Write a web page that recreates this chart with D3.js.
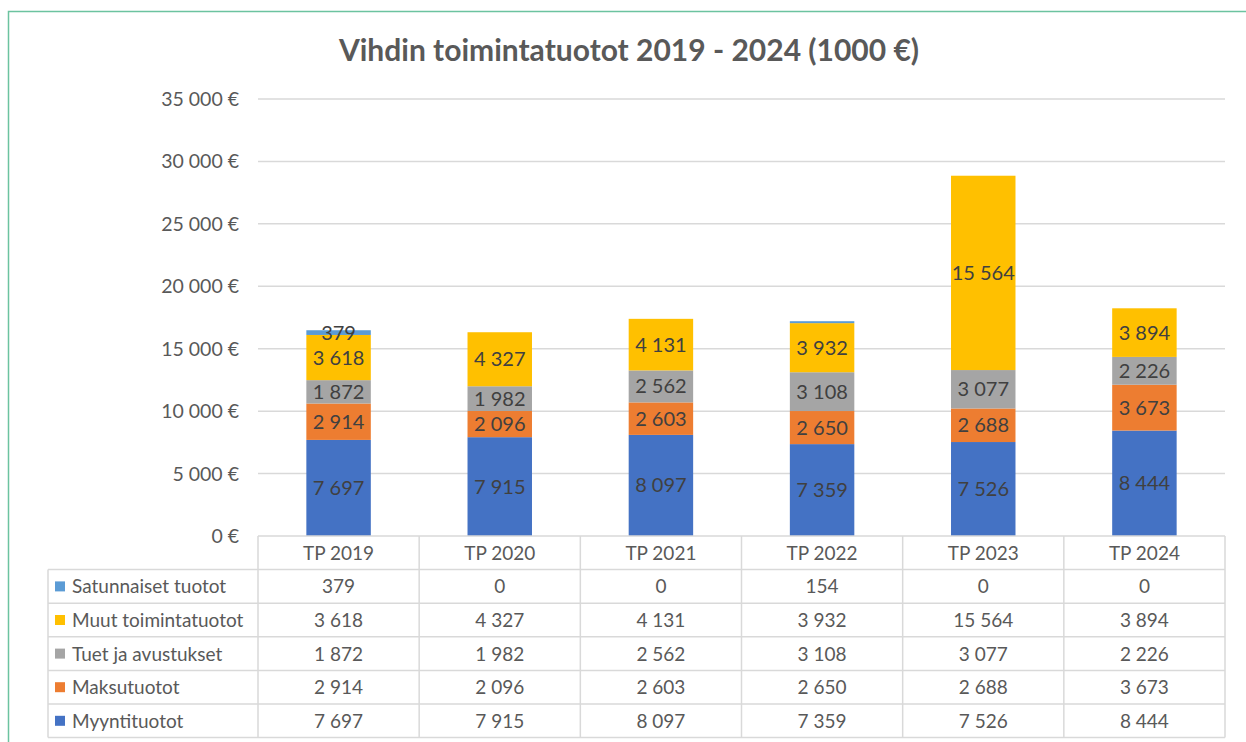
<!DOCTYPE html>
<html>
<head>
<meta charset="utf-8">
<script src="https://cdn.jsdelivr.net/npm/d3@7"></script>
<style>
  body { margin: 0; background: #fff; }
  text { font-family: Lato, "Open Sans", sans-serif; }
</style>
</head>
<body>
<div id="chart"></div>
<script>
var years = ["TP 2019", "TP 2020", "TP 2021", "TP 2022", "TP 2023", "TP 2024"];
var seriesNames = ["Myyntituotot", "Maksutuotot", "Tuet ja avustukset", "Muut toimintatuotot", "Satunnaiset tuotot"];
var myyntituotot = [7697, 7915, 8097, 7359, 7526, 8444];
var maksutuotot = [2914, 2096, 2603, 2650, 2688, 3673];
var tuet = [1872, 1982, 2562, 3108, 3077, 2226];
var muut = [3618, 4327, 4131, 3932, 15564, 3894];
var satunnaiset = [379, 0, 0, 154, 0, 0];
var colors = ["#4472C4", "#ED7D31", "#A5A5A5", "#FFC000", "#5B9BD5"];
var yTicks = [0, 5000, 10000, 15000, 20000, 25000, 30000, 35000];

var allSeries = [myyntituotot, maksutuotot, tuet, muut, satunnaiset];

var W = 1246, H = 742,
    p = {"top": 99, "right": 21, "left": 258, "bottom": 206};

var fi = d3.formatLocale({decimal: ",", thousands: "\u00a0", grouping: [3], currency: ["", " €"]});
var fmt = fi.format(",d");

var rows = years.map(function(yr, i){
  var r = {year: yr};
  seriesNames.forEach(function(s, k){ r[s] = allSeries[k][i]; });
  return r;
});
var stacked = d3.stack().keys(seriesNames)(rows);

var svg = d3.select("#chart").append("svg")
  .attr("width", W)
  .attr("height", H)

// frame
svg.append("path")
  .attr("d", "M8.5," + H + "V11.5H" + W)
  .attr("fill", "none")
  .attr("stroke", "#6cc3a0")
  .attr("stroke-width", 1.5)

svg.append("text")
  .attr("x", 629).attr("y", 61)
  .attr("text-anchor", "middle")
  .attr("font-size", 30).attr("font-weight", "bold")
  .attr("fill", "#595959")
  .text("Vihdin toimintatuotot 2019 - 2024 (1000 €)")

var x = d3.scaleBand().domain(years).range([p.left, W - p.right]);
var y = d3.scaleLinear().domain([0, 35000]).range([H - p.bottom, p.top]);
var bw = x.bandwidth() * 0.4;

// gridlines
svg.append("g").selectAll("line")
  .data(yTicks.slice(1))
  .enter().append("line")
    .attr("x1", p.left).attr("x2", W - p.right)
    .attr("y1", function(d){ return y(d) }).attr("y2", function(d){ return y(d) })
    .attr("stroke", "#d9d9d9").attr("stroke-width", 1.5)

svg.append("g").selectAll("text")
  .data(yTicks)
  .enter().append("text")
    .attr("x", 239)
    .attr("y", function(d){ return y(d) + 7 })
    .attr("text-anchor", "end")
    .attr("font-size", 19.5).attr("fill", "#595959")
    .text(function(d){ return fmt(d) + " €" })

// bars
var layers = svg.append("g").selectAll("g")
  .data(stacked)
  .enter().append("g")
    .attr("fill", function(d, i){ return colors[i] })

layers.selectAll("rect")
  .data(function(d){ return d })
  .enter().append("rect")
    .attr("x", function(d){ return x(d.data.year) + (x.bandwidth() - bw) / 2 })
    .attr("y", function(d){ return y(d[1]) })
    .attr("width", bw)
    .attr("height", function(d){ return y(d[0]) - y(d[1]) })

// data labels (tiny segments left without label, as in the original)
layers.selectAll("text")
  .data(function(d){ return d.filter(function(s){ return s[1] - s[0] >= 300 }) })
  .enter().append("text")
    .attr("x", function(d){ return x(d.data.year) + x.bandwidth() / 2 })
    .attr("y", function(d){ return (y(d[0]) + y(d[1])) / 2 + 7 })
    .attr("text-anchor", "middle")
    .attr("font-size", 20).attr("fill", "#404040")
    .text(function(d){ return fmt(d[1] - d[0]) })

// data table
var rowH = 33.6, tTop = H - p.bottom, legX = 48;
var tableRows = seriesNames.slice().reverse();
var tbl = svg.append("g").attr("stroke", "#d9d9d9").attr("stroke-width", 1.5)

// horizontal lines
tbl.append("line").attr("x1", p.left).attr("x2", W - p.right).attr("y1", tTop).attr("y2", tTop)
d3.range(1, tableRows.length + 2).forEach(function(k){
  tbl.append("line").attr("x1", legX).attr("x2", W - p.right)
    .attr("y1", tTop + k * rowH).attr("y2", tTop + k * rowH)
})
// vertical lines
tbl.append("line").attr("x1", legX).attr("x2", legX).attr("y1", tTop + rowH).attr("y2", tTop + 6 * rowH)
years.concat([null]).forEach(function(yr, i){
  var xx = i < years.length ? x(yr) : W - p.right;
  tbl.append("line").attr("x1", xx).attr("x2", xx).attr("y1", tTop).attr("y2", tTop + 6 * rowH)
})

svg.append("g").selectAll("text")
  .data(years)
  .enter().append("text")
    .attr("x", function(d){ return x(d) + x.bandwidth() / 2 })
    .attr("y", tTop + rowH / 2 + 7)
    .attr("text-anchor", "middle")
    .attr("font-size", 19).attr("fill", "#595959")
    .text(function(d){ return d })

tableRows.forEach(function(name, r){
  var k = seriesNames.indexOf(name);
  var cy = tTop + (r + 1) * rowH + rowH / 2;
  svg.append("rect")
    .attr("x", 55).attr("y", cy - 5)
    .attr("width", 10).attr("height", 10)
    .attr("fill", colors[k])
  svg.append("text")
    .attr("x", 72).attr("y", cy + 7)
    .attr("font-size", 19).attr("fill", "#595959")
    .text(name)
  svg.append("g").selectAll("text")
    .data(allSeries[k])
    .enter().append("text")
      .attr("x", function(d, i){ return x(years[i]) + x.bandwidth() / 2 })
      .attr("y", cy + 7)
      .attr("text-anchor", "middle")
      .attr("font-size", 19).attr("fill", "#595959")
      .text(function(d){ return fmt(d) })
})
</script>
</body>
</html>
